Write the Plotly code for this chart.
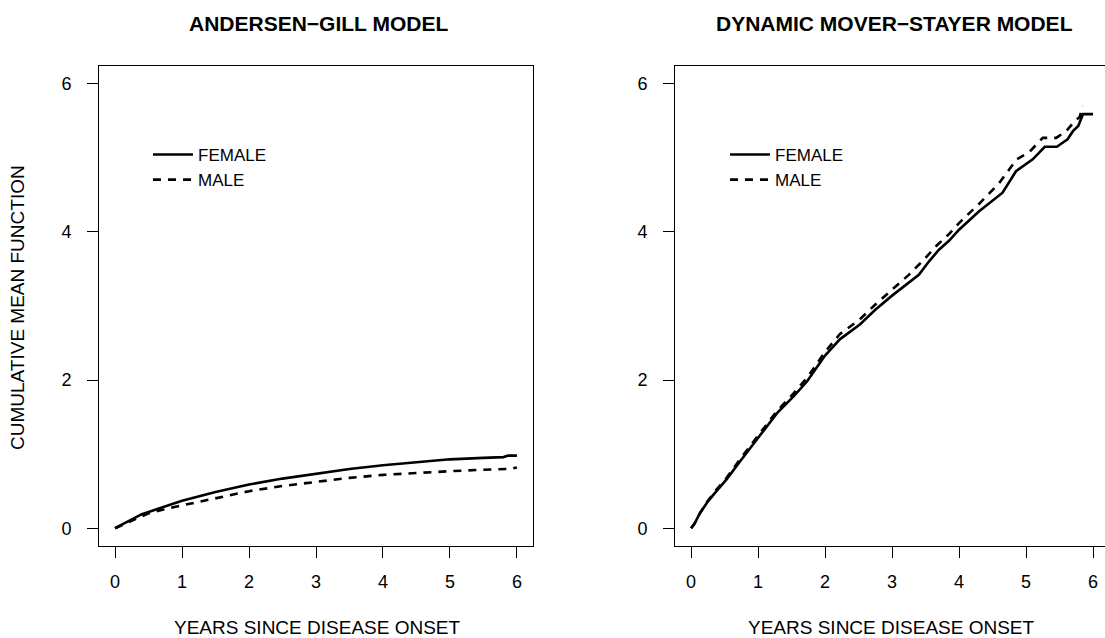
import plotly.graph_objects as go

# ---------------- data ----------------
ag_x_female = [0, 0.1, 0.2, 0.3, 0.4, 0.5, 0.75, 1.0, 1.5, 2.0, 2.5, 3.0, 3.5, 4.0, 4.5, 5.0, 5.5, 5.8, 5.87, 6.0]
ag_y_female = [0, 0.05, 0.10, 0.15, 0.19, 0.22, 0.30, 0.37, 0.49, 0.59, 0.67, 0.74, 0.80, 0.85, 0.89, 0.93, 0.95, 0.96, 0.98, 0.98]

ag_x_male = [0, 0.1, 0.2, 0.3, 0.4, 0.5, 0.75, 1.0, 1.5, 2.0, 2.5, 3.0, 3.5, 4.0, 4.5, 5.0, 5.5, 5.9, 6.0]
ag_y_male = [0, 0.04, 0.09, 0.13, 0.17, 0.20, 0.26, 0.31, 0.41, 0.50, 0.57, 0.63, 0.68, 0.72, 0.75, 0.77, 0.79, 0.80, 0.82]

ms_x_female = [0, 0.05, 0.13, 0.25, 0.36, 0.53, 0.73, 1.0, 1.28, 1.53, 1.73, 2.0, 2.22, 2.52, 2.75, 3.0, 3.25,
               3.4, 3.55, 3.7, 3.85, 4.0, 4.3, 4.65, 4.85, 4.95, 5.1, 5.28, 5.46, 5.62, 5.7, 5.78, 5.85, 6.0]
ms_y_female = [0, 0.06, 0.20, 0.36, 0.48, 0.66, 0.90, 1.22, 1.55, 1.78, 1.98, 2.33, 2.55, 2.75, 2.95, 3.14, 3.32,
               3.42, 3.60, 3.76, 3.88, 4.03, 4.28, 4.53, 4.82, 4.88, 4.98, 5.15, 5.15, 5.25, 5.36, 5.43, 5.59, 5.59]

ms_x_male = [0, 0.05, 0.13, 0.25, 0.36, 0.53, 0.73, 1.0, 1.28, 1.53, 1.73, 2.0, 2.22, 2.52, 2.75, 3.0, 3.25,
             3.5, 3.66, 3.85, 4.0, 4.3, 4.6, 4.86, 5.05, 5.25, 5.45, 5.6, 5.73, 5.8, 5.85]
ms_y_male = [0, 0.06, 0.20, 0.37, 0.50, 0.68, 0.93, 1.25, 1.58, 1.82, 2.03, 2.38, 2.62, 2.82, 3.02, 3.22, 3.42,
             3.65, 3.81, 3.97, 4.12, 4.38, 4.66, 4.98, 5.08, 5.27, 5.27, 5.36, 5.50, 5.55, 5.70]

x_ticks = [0, 1, 2, 3, 4, 5, 6]
y_ticks = [0, 2, 4, 6]
panel_titles = ["ANDERSEN\u2212GILL MODEL", "DYNAMIC MOVER\u2212STAYER MODEL"]
x_title = "YEARS SINCE DISEASE ONSET"
y_title = "CUMULATIVE MEAN FUNCTION"
series_names = ["FEMALE", "MALE"]

# ---------------- figure ----------------
W, H = 1105, 638
FONT = "Liberation Sans, Arial, Helvetica, sans-serif"
LW = 2.6
DASH = "8px,7px"

fig = go.Figure()

fig.add_trace(go.Scatter(x=ag_x_female, y=ag_y_female, mode="lines", name=series_names[0],
                         line=dict(color="black", width=LW), xaxis="x", yaxis="y", legend="legend"))
fig.add_trace(go.Scatter(x=ag_x_male, y=ag_y_male, mode="lines", name=series_names[1],
                         line=dict(color="black", width=LW, dash=DASH), xaxis="x", yaxis="y", legend="legend"))
fig.add_trace(go.Scatter(x=ms_x_female, y=ms_y_female, mode="lines", name=series_names[0],
                         line=dict(color="black", width=LW), xaxis="x2", yaxis="y2", legend="legend2"))
fig.add_trace(go.Scatter(x=ms_x_male, y=ms_y_male, mode="lines", name=series_names[1],
                         line=dict(color="black", width=LW, dash=DASH), xaxis="x2", yaxis="y2", legend="legend2"))

def px_x(p):
    return p / W

def px_y(p):
    return 1 - p / H

ydom = [px_y(546), px_y(66)]
axis_common = dict(showgrid=False, zeroline=False, showline=True, linecolor="black", linewidth=1,
                   ticks="outside", ticklen=11, tickwidth=1, tickcolor="black",
                   tickfont=dict(family=FONT, size=18, color="black"), fixedrange=True)

legend_common = dict(xanchor="left", yanchor="top", bgcolor="rgba(0,0,0,0)", borderwidth=0, itemwidth=40,
                     font=dict(family=FONT, size=17, color="black"), tracegroupgap=0)

fig.update_layout(
    width=W, height=H,
    margin=dict(l=0, r=0, t=0, b=0),
    paper_bgcolor="white", plot_bgcolor="white",
    font=dict(family=FONT, color="black"),
    xaxis=dict(domain=[px_x(99), px_x(533)], range=[-0.24, 6.24], tickvals=x_ticks,
               mirror=True, anchor="y", ticklabelstandoff=8, **axis_common),
    yaxis=dict(domain=ydom, range=[-0.24, 6.24], tickvals=y_ticks,
               mirror=True, anchor="x", ticklabelstandoff=12, **axis_common),
    xaxis2=dict(domain=[px_x(675), 1.0], range=[-0.24, (1105 - 691) / 67.0], tickvals=x_ticks,
                mirror=True, anchor="y2", ticklabelstandoff=8, **axis_common),
    yaxis2=dict(domain=ydom, range=[-0.24, 6.24], tickvals=y_ticks,
                mirror=False, anchor="x2", ticklabelstandoff=12, **axis_common),
    legend=dict(x=px_x(148), y=px_y(137), **legend_common),
    legend2=dict(x=px_x(725), y=px_y(137), **legend_common),
    showlegend=True,
)

ann = []
ann.append(dict(text="<b>" + panel_titles[0] + "</b>", x=px_x(318), y=px_y(23), xref="paper", yref="paper",
                xanchor="center", yanchor="middle", showarrow=False, font=dict(family=FONT, size=21, color="black")))
ann.append(dict(text="<b>" + panel_titles[1] + "</b>", x=px_x(894), y=px_y(23), xref="paper", yref="paper",
                xanchor="center", yanchor="middle", showarrow=False, font=dict(family=FONT, size=21, color="black")))
ann.append(dict(text=x_title, x=px_x(317), y=px_y(627), xref="paper", yref="paper",
                xanchor="center", yanchor="middle", showarrow=False, font=dict(family=FONT, size=19, color="black")))
ann.append(dict(text=x_title, x=px_x(891), y=px_y(627), xref="paper", yref="paper",
                xanchor="center", yanchor="middle", showarrow=False, font=dict(family=FONT, size=19, color="black")))
ann.append(dict(text=y_title, x=px_x(17), y=px_y(308), xref="paper", yref="paper", textangle=-90,
                xanchor="center", yanchor="middle", showarrow=False, font=dict(family=FONT, size=19, color="black")))
fig.update_layout(annotations=ann)

fig.write_html("out.html")
